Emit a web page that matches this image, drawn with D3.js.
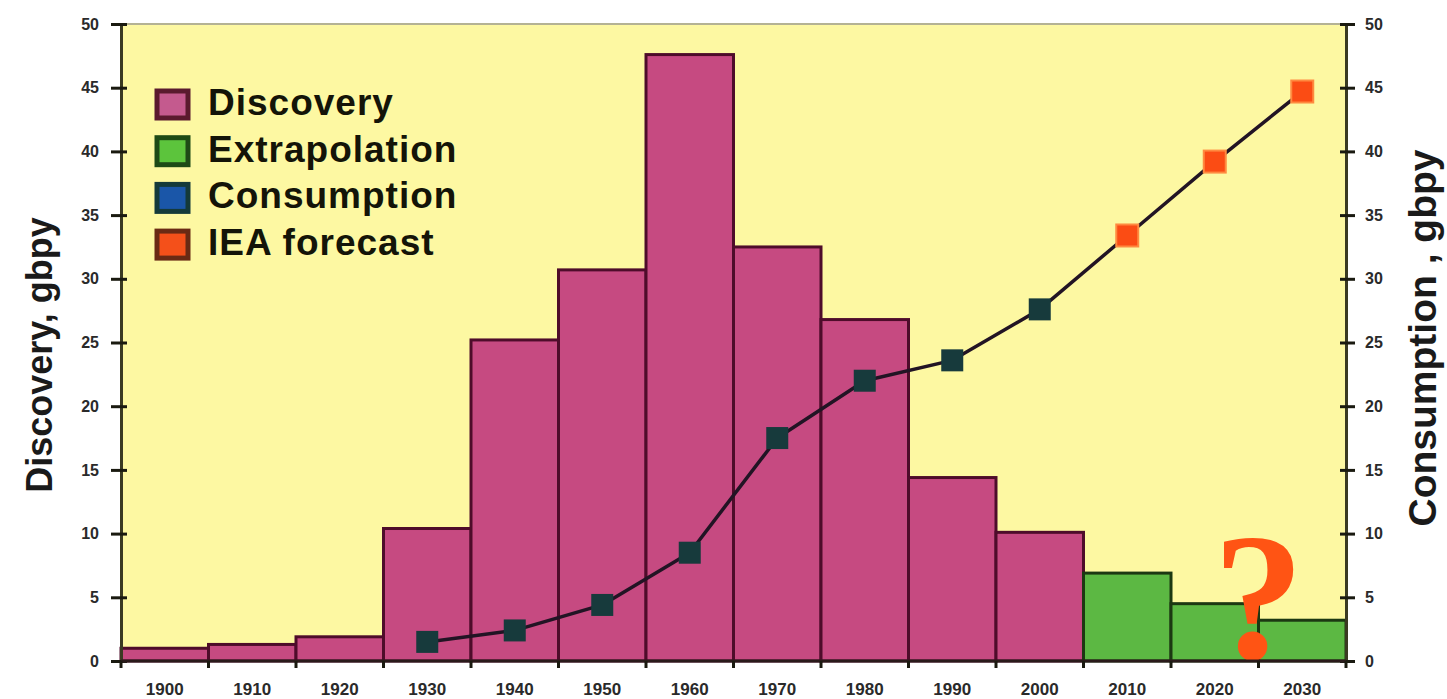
<!DOCTYPE html>
<html>
<head>
<meta charset="utf-8">
<script src="https://cdn.jsdelivr.net/npm/d3@7"></script>
<style>
  html, body { margin: 0; padding: 0; background: #ffffff; }
  svg { display: block; }
  text { font-family: "Liberation Sans", Arial, sans-serif; }
</style>
</head>
<body>
<svg id="chart" width="1447" height="699"></svg>
<script>
// Decades shown on the x axis
const years = [1900, 1910, 1920, 1930, 1940, 1950, 1960, 1970, 1980, 1990, 2000, 2010, 2020, 2030];
// Oil discovered per decade (gbpy); the last three decades are extrapolated
const discovery = [1.0, 1.3, 1.9, 10.4, 25.2, 30.7, 47.6, 32.5, 26.8, 14.4, 10.1, null, null, null];
const extrapolation = [null, null, null, null, null, null, null, null, null, null, null, 6.9, 4.5, 3.2];
// Consumption (gbpy) and the IEA forecast
const consumptionYears = [1930, 1940, 1950, 1960, 1970, 1980, 1990, 2000];
const consumption = [1.5, 2.4, 4.4, 8.5, 17.5, 22.0, 23.6, 27.6];
const forecastYears = [2010, 2020, 2030];
const forecast = [33.4, 39.2, 44.7];
const yTicks = [0, 5, 10, 15, 20, 25, 30, 35, 40, 45, 50];
const legendItems = ["Discovery", "Extrapolation", "Consumption", "IEA forecast"];

const svg = d3.select("#chart");
const plotL = 121, plotR = 1346, plotT = 24, plotB = 661;

const x = d3.scaleBand().domain(years).range([plotL, plotR]).padding(0);
const yL = d3.scaleLinear().domain([0, 50]).range([plotB, plotT]);
const yR = d3.scaleLinear().domain([0, 50]).range([plotB, plotT]);

// plot background
svg.append("rect")
  .attr("x", plotL).attr("y", plotT)
  .attr("width", plotR - plotL).attr("height", plotB - plotT)
  .attr("fill", "#fdf8a2");
svg.append("line")
  .attr("x1", plotL).attr("x2", plotR).attr("y1", plotT).attr("y2", plotT)
  .attr("stroke", "#b4b294").attr("stroke-width", 2);

// discovery bars
svg.append("g").selectAll("rect")
  .data(years.map((yr, i) => ({ yr, v: discovery[i] })).filter(d => d.v != null))
  .join("rect")
  .attr("x", d => x(d.yr)).attr("width", x.bandwidth())
  .attr("y", d => yL(d.v)).attr("height", d => plotB - yL(d.v))
  .attr("fill", "#c64a81").attr("stroke", "#4e0c2a").attr("stroke-width", 3);

// extrapolated bars
svg.append("g").selectAll("rect")
  .data(years.map((yr, i) => ({ yr, v: extrapolation[i] })).filter(d => d.v != null))
  .join("rect")
  .attr("x", d => x(d.yr)).attr("width", x.bandwidth())
  .attr("y", d => yL(d.v)).attr("height", d => plotB - yL(d.v))
  .attr("fill", "#5cb843").attr("stroke", "#1c3812").attr("stroke-width", 3);

// big question mark over the extrapolation
svg.append("text")
  .attr("x", x(2020) + x.bandwidth()).attr("y", 658)
  .attr("text-anchor", "middle")
  .style("font-family", "'Liberation Serif', 'DejaVu Serif', serif")
  .style("font-weight", "bold").style("font-size", "182px")
  .attr("fill", "#ff5414")
  .text("?");

// axes
const axisColor = "#3a3a22";
const gl = svg.append("g").attr("transform", `translate(${plotL},0)`)
  .call(d3.axisLeft(yL).tickValues(yTicks).tickSize(10).tickSizeOuter(0).tickPadding(12));
const gr = svg.append("g").attr("transform", `translate(${plotR},0)`)
  .call(d3.axisRight(yR).tickValues(yTicks).tickSize(9).tickSizeOuter(0).tickPadding(10));
[gl, gr].forEach(g => {
  g.select(".domain").attr("stroke", axisColor).attr("stroke-width", 3);
  g.selectAll(".tick line").attr("stroke", "#1a1a10").attr("stroke-width", 3);
  g.selectAll(".tick text").attr("fill", "#2a2a2a")
    .style("font-size", "16px").style("font-weight", "bold");
});
gl.selectAll(".tick line").attr("x2", 6).attr("x1", -10);
gr.selectAll(".tick line").attr("x1", -6);

// x axis: ticks on decade boundaries, labels centred on bars
svg.append("line")
  .attr("x1", plotL).attr("x2", plotR).attr("y1", plotB).attr("y2", plotB)
  .attr("stroke", "#2a1a1a").attr("stroke-width", 3);
const bounds = years.map(yr => x(yr)).concat([plotR]);
svg.append("g").selectAll("line").data(bounds).join("line")
  .attr("x1", d => d).attr("x2", d => d)
  .attr("y1", plotB).attr("y2", plotB + 7)
  .attr("stroke", "#1a1a10").attr("stroke-width", 3);
svg.append("g").selectAll("text").data(years).join("text")
  .attr("x", d => x(d) + x.bandwidth() / 2).attr("y", 695)
  .attr("text-anchor", "middle")
  .style("font-size", "17px").style("font-weight", "bold")
  .attr("fill", "#2a2a2a")
  .text(d => d);

// consumption + forecast line
const pts = consumptionYears.map((yr, i) => ({ yr, v: consumption[i] }))
  .concat(forecastYears.map((yr, i) => ({ yr, v: forecast[i] })));
const cx = yr => x(yr) + x.bandwidth() / 2;
svg.append("path")
  .datum(pts)
  .attr("d", d3.line().x(d => cx(d.yr)).y(d => yR(d.v)))
  .attr("fill", "none").attr("stroke", "#221424").attr("stroke-width", 3.5)
  .attr("stroke-linejoin", "round");

const ms = 22;
svg.append("g").selectAll("rect")
  .data(consumptionYears.map((yr, i) => ({ yr, v: consumption[i] })))
  .join("rect")
  .attr("x", d => cx(d.yr) - ms / 2).attr("y", d => yR(d.v) - ms / 2)
  .attr("width", ms).attr("height", ms)
  .attr("fill", "#173a3c");
svg.append("g").selectAll("rect")
  .data(forecastYears.map((yr, i) => ({ yr, v: forecast[i] })))
  .join("rect")
  .attr("x", d => cx(d.yr) - ms / 2).attr("y", d => yR(d.v) - ms / 2)
  .attr("width", ms).attr("height", ms)
  .attr("fill", "#fb4c14").attr("stroke", "#ff8a40").attr("stroke-width", 2);

// legend
const legendFill = ["#c45a8e", "#5cc43c", "#1a56a8", "#f4501a"];
const legendEdge = ["#5a1a2e", "#1e4a16", "#143a3a", "#6a2a14"];
const lg = svg.append("g");
legendItems.forEach((name, i) => {
  const yy = 115 + i * 46.7;
  lg.append("rect")
    .attr("x", 157).attr("y", yy - 24).attr("width", 31).attr("height", 27)
    .attr("fill", legendFill[i]).attr("stroke", legendEdge[i]).attr("stroke-width", 5);
  lg.append("text")
    .attr("x", 208).attr("y", yy)
    .style("font-size", "37px").style("font-weight", "bold")
    .style("letter-spacing", "1px")
    .attr("fill", "#141408")
    .text(name);
});

// axis titles
svg.append("text")
  .attr("transform", "translate(52,355) rotate(-90)")
  .attr("text-anchor", "middle")
  .style("font-size", "36px").style("font-weight", "bold")
  .attr("fill", "#1a1a1a")
  .text("Discovery, gbpy");
svg.append("text")
  .attr("transform", "translate(1436,338) rotate(-90)")
  .attr("text-anchor", "middle")
  .style("font-size", "39px").style("font-weight", "bold")
  .attr("fill", "#1a1a1a")
  .text("Consumption , gbpy");
</script>
</body>
</html>
